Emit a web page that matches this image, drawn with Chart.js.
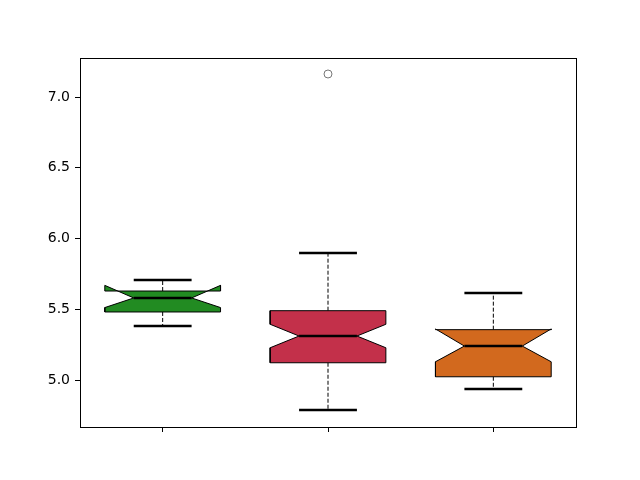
<!DOCTYPE html>
<html>
<head>
<meta charset="utf-8">
<script src="https://cdn.jsdelivr.net/npm/chart.js@4/dist/chart.umd.min.js"></script>
<style>
  html, body { margin: 0; padding: 0; background: #fff; }
</style>
</head>
<body>
<canvas id="box" width="640" height="480"></canvas>
<script>
// box stats
const positions = [1, 2, 3];
const q1 = [5.481, 5.122, 5.023];
const q3 = [5.629, 5.490, 5.356];
const medians = [5.580, 5.311, 5.240];
const notchLo = [5.512, 5.228, 5.129];
const notchHi = [5.669, 5.394, 5.361];
const whiskerLo = [5.382, 4.788, 4.936];
const whiskerHi = [5.707, 5.897, 5.615];
const outliers = [[], [7.163], []];
const colors = ['#228b22', '#c3304a', '#d2691e'];
const yTicks = [5.0, 5.5, 6.0, 6.5, 7.0];

const boxHalf = 0.35;
const notchHalf = 0.175;

const datasets = [];

positions.forEach((x, i) => {
  // notched box outline, like matplotlib's path
  const l = x - boxHalf, r = x + boxHalf;
  const nl = x - notchHalf, nr = x + notchHalf;
  datasets.push({
    data: [
      { x: l, y: q1[i] }, { x: r, y: q1[i] },
      { x: r, y: notchLo[i] }, { x: nr, y: medians[i] }, { x: r, y: notchHi[i] },
      { x: r, y: q3[i] }, { x: l, y: q3[i] },
      { x: l, y: notchHi[i] }, { x: nl, y: medians[i] }, { x: l, y: notchLo[i] },
      { x: l, y: q1[i] }
    ],
    showLine: true, fill: 'shape',
    backgroundColor: colors[i], borderColor: '#000', borderWidth: 1,
    pointRadius: 0, tension: 0, order: 5
  });
  // whiskers
  datasets.push({
    data: [{ x: x, y: q3[i] }, { x: x, y: whiskerHi[i] }],
    showLine: true, borderColor: '#000', borderWidth: 1, borderDash: [4, 2],
    pointRadius: 0, order: 6
  });
  datasets.push({
    data: [{ x: x, y: q1[i] }, { x: x, y: whiskerLo[i] }],
    showLine: true, borderColor: '#000', borderWidth: 1, borderDash: [4, 2],
    pointRadius: 0, order: 6
  });
  // caps
  [whiskerLo[i], whiskerHi[i]].forEach(v => {
    datasets.push({
      data: [{ x: nl, y: v }, { x: nr, y: v }],
      showLine: true, borderColor: '#000', borderWidth: 2.5,
      pointRadius: 0, order: 2
    });
  });
  // median
  datasets.push({
    data: [{ x: nl, y: medians[i] }, { x: nr, y: medians[i] }],
    showLine: true, borderColor: '#000', borderWidth: 2.5,
    pointRadius: 0, order: 1
  });
  // fliers
  if (outliers[i].length) {
    datasets.push({
      data: outliers[i].map(v => ({ x: x, y: v })),
      showLine: false, pointStyle: 'circle', pointRadius: 4,
      pointBorderColor: '#777', pointBackgroundColor: 'rgba(0,0,0,0)',
      pointBorderWidth: 1, order: 0
    });
  }
});

// axes frame, matplotlib style
const framePlugin = {
  id: 'frame',
  afterDraw(chart) {
    const { ctx, chartArea: a } = chart;
    ctx.save();
    ctx.strokeStyle = '#000';
    ctx.lineWidth = 1;
    ctx.strokeRect(Math.round(a.left) + 0.5, Math.round(a.top) + 0.5,
      Math.round(a.right - a.left), Math.round(a.bottom - a.top));
    ctx.restore();
  }
};

new Chart(document.getElementById('box'), {
  type: 'scatter',
  data: { datasets },
  options: {
    responsive: false,
    animation: false,
    layout: { padding: { left: 0, right: 64, top: 58, bottom: 0 } },
    plugins: { legend: { display: false }, tooltip: { enabled: false } },
    scales: {
      x: {
        type: 'linear', min: 0.5, max: 3.5,
        afterBuildTicks: s => { s.ticks = positions.map(v => ({ value: v })); },
        afterFit: s => { s.height = 53; },
        ticks: { callback: () => '', padding: 4 },
        grid: { drawOnChartArea: false, drawTicks: true, tickLength: 5, color: '#000' },
        border: { display: false }
      },
      y: {
        type: 'linear', min: 4.668, max: 7.276,
        afterBuildTicks: s => { s.ticks = yTicks.map(v => ({ value: v })); },
        afterFit: s => { s.width = 80; },
        ticks: {
          callback: v => Number(v).toFixed(1),
          color: '#000', padding: 5,
          font: { family: 'DejaVu Sans', size: 14 }
        },
        grid: { drawOnChartArea: false, drawTicks: true, tickLength: 5, color: '#000' },
        border: { display: false }
      }
    }
  },
  plugins: [framePlugin]
});
</script>
</body>
</html>
